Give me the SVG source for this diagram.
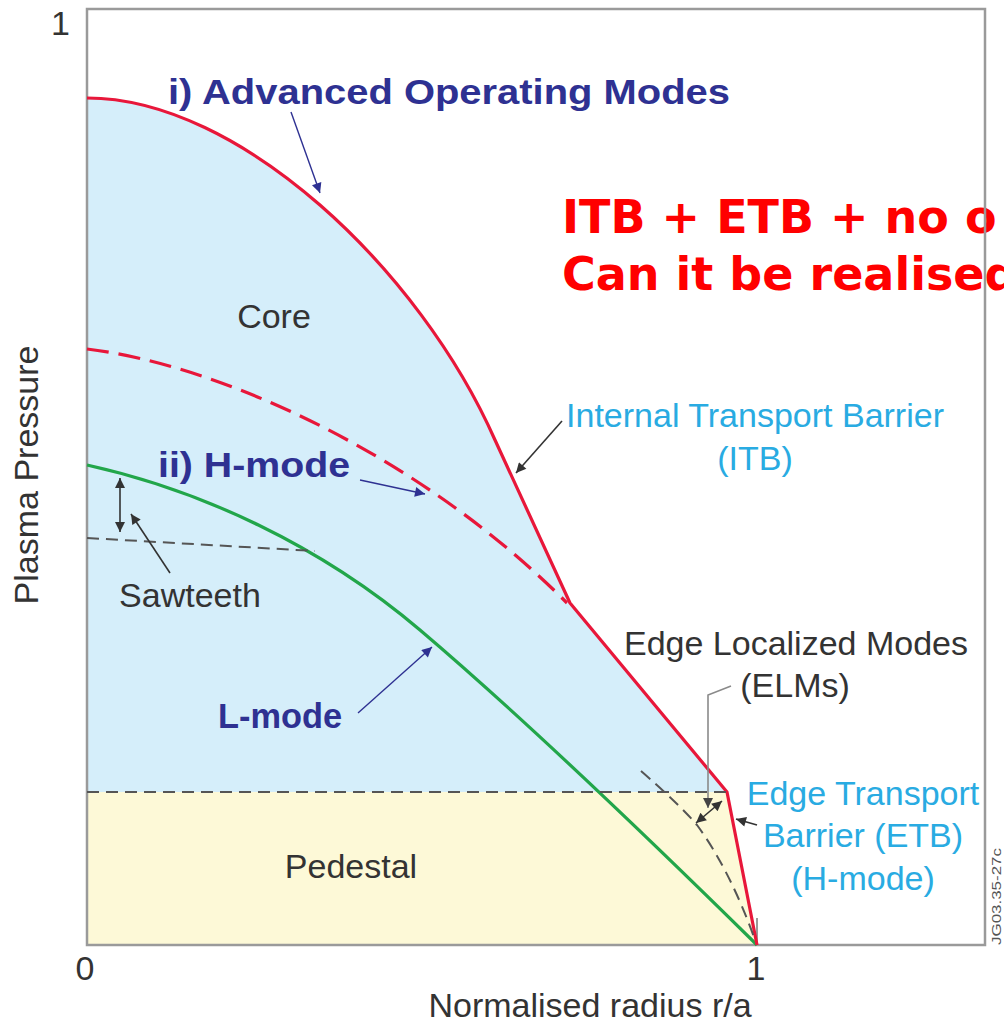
<svg xmlns="http://www.w3.org/2000/svg" width="1004" height="1022" viewBox="0 0 1004 1022">
<defs>
<style>
.lbl{font-family:"Liberation Sans",Arial,sans-serif;font-size:34px;fill:#333}
.blu{font-family:"Liberation Sans",Arial,sans-serif;font-size:34px;fill:#29abe2}
.mode{font-family:"Liberation Sans",Arial,sans-serif;font-size:35px;font-weight:bold;fill:#2e3192}
.big{font-family:"DejaVu Sans",sans-serif;font-size:46px;font-weight:bold;fill:#ff0000}
.red{fill:none;stroke:#e8173a;stroke-width:3.2;stroke-linejoin:round}
.grn{fill:none;stroke:#22a64a;stroke-width:3.2}
.dash{fill:none;stroke:#555;stroke-width:2;stroke-dasharray:12 7}
.arB{fill:none;stroke:#2e3192;stroke-width:1.4;marker-end:url(#ahB)}
.arK{fill:none;stroke:#333;stroke-width:1.6}
</style>
<marker id="ahB" viewBox="0 0 10 10" refX="10" refY="5" markerWidth="13" markerHeight="10" markerUnits="userSpaceOnUse" orient="auto-start-reverse"><path d="M0,0 L10,5 L0,10 z" fill="#2e3192"/></marker>
<marker id="ahK" viewBox="0 0 10 10" refX="10" refY="5" markerWidth="13" markerHeight="10" markerUnits="userSpaceOnUse" orient="auto-start-reverse"><path d="M0,0 L10,5 L0,10 z" fill="#333"/></marker>
<marker id="ahG" viewBox="0 0 10 10" refX="10" refY="5" markerWidth="12" markerHeight="10" markerUnits="userSpaceOnUse" orient="auto-start-reverse"><path d="M0,0 L10,5 L0,10 z" fill="#444"/></marker>
</defs>
<rect width="1004" height="1022" fill="#fff"/>
<g id="regions">
<path id="core-fill" d="M87,98 C240,98 420,270 495,440 L570,603 L727,792 L87,792 Z" fill="#d5eefa"/>
<path id="pedestal-fill" d="M87,792 L727,792 L757,945 L87,945 Z" fill="#fdf9d7"/>
</g>
<g id="red-text">
<text class="big" x="562" y="233">ITB + ETB + no o</text>
<text class="big" x="562" y="290">Can it be realised</text>
</g>
<g id="frame" fill="none" stroke="#9a9a9a">
<rect x="87" y="9" width="898" height="936" stroke-width="2.5"/>
<line x1="757" y1="918" x2="757" y2="945" stroke-width="2"/>
</g>
<g id="curves">
<path id="l-mode" class="grn" d="M87,465 C200,490 320,545 420,630 C500,698 620,810 757,945"/>
<path id="h-mode" class="red" d="M87,349 C220,365 420,455 567,603" stroke-dasharray="22 10" stroke-width="3.6"/>
<path id="advanced" class="red" d="M87,98 C240,98 420,270 495,440 L570,603 L727,792 L757,945"/>
<line id="sawtooth-level" class="dash" x1="87" y1="538" x2="315" y2="551"/>
<line id="pedestal-level" class="dash" x1="87" y1="792" x2="727" y2="792"/>
<path id="elm-level" class="dash" d="M641,771 Q680,805 697,825 Q730,870 755,940"/>
</g>
<g id="connectors">
<line class="arB" x1="291" y1="112" x2="320" y2="193"/>
<line class="arB" x1="360" y1="480" x2="425" y2="494"/>
<line class="arB" x1="358" y1="713" x2="432" y2="647"/>
<line class="arK" x1="562" y1="421" x2="516" y2="473" marker-end="url(#ahK)"/>
<line class="arK" x1="120" y1="478" x2="120" y2="532" marker-start="url(#ahK)" marker-end="url(#ahK)"/>
<line class="arK" x1="170" y1="573" x2="131" y2="514" marker-end="url(#ahK)"/>
<polyline fill="none" stroke="#8a8a8a" stroke-width="1.6" points="731,686 708,695 708,808" marker-end="url(#ahG)"/>
<line class="arK" x1="696" y1="823" x2="722" y2="801" marker-start="url(#ahK)" marker-end="url(#ahK)"/>
<line class="arK" x1="757" y1="825" x2="736" y2="819" marker-end="url(#ahK)"/>
</g>
<g id="axis-labels">
<text class="lbl" x="70" y="35" text-anchor="end">1</text>
<text class="lbl" x="85" y="980" text-anchor="middle">0</text>
<text class="lbl" x="756" y="980" text-anchor="middle">1</text>
<text class="lbl" x="590" y="1017" text-anchor="middle">Normalised radius r/a</text>
<text class="lbl" transform="translate(38,475) rotate(-90)" text-anchor="middle">Plasma Pressure</text>
<text transform="translate(1001,945) rotate(-90)" font-family="Liberation Sans, Arial, sans-serif" font-size="13" fill="#555" textLength="97" lengthAdjust="spacingAndGlyphs">JG03.35-27c</text>
</g>
<g id="region-labels">
<text class="lbl" x="274" y="328" text-anchor="middle">Core</text>
<text class="lbl" x="351" y="878" text-anchor="middle">Pedestal</text>
<text class="lbl" x="190" y="607" text-anchor="middle">Sawteeth</text>
</g>
<g id="mode-labels">
<text class="mode" x="168" y="104" textLength="562" lengthAdjust="spacingAndGlyphs">i) Advanced Operating Modes</text>
<text class="mode" x="158" y="477" textLength="192" lengthAdjust="spacingAndGlyphs">ii) H-mode</text>
<text class="mode" x="218" y="728" textLength="124" lengthAdjust="spacingAndGlyphs">L-mode</text>
</g>
<g id="barrier-labels">
<text class="blu" x="755" y="427" text-anchor="middle">Internal Transport Barrier</text>
<text class="blu" x="755" y="470" text-anchor="middle">(ITB)</text>
<text class="lbl" x="796" y="655" text-anchor="middle">Edge Localized Modes</text>
<text class="lbl" x="795" y="697" text-anchor="middle">(ELMs)</text>
<text class="blu" x="863" y="805" text-anchor="middle">Edge Transport</text>
<text class="blu" x="863" y="847" text-anchor="middle">Barrier (ETB)</text>
<text class="blu" x="863" y="890" text-anchor="middle">(H-mode)</text>
</g>
</svg>
